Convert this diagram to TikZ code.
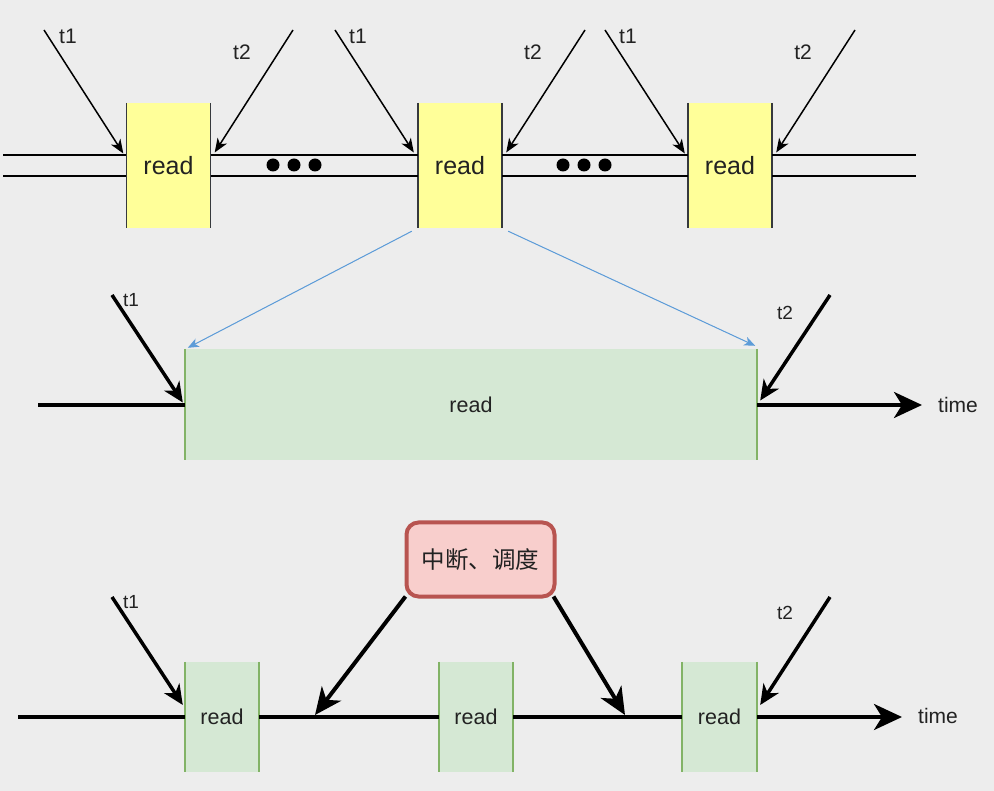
\documentclass[tikz,border=0pt]{standalone}
\usepackage{fontspec}
\setmainfont{Liberation Sans}
\newfontfamily\cjk{Noto Sans CJK SC}
\usetikzlibrary{arrows.meta,calc}
\definecolor{bg}{HTML}{EDEDED}
\definecolor{yfill}{HTML}{FFFF99}
\definecolor{yedge}{HTML}{36393D}
\definecolor{gfill}{HTML}{D5E8D4}
\definecolor{gedge}{HTML}{82B366}
\definecolor{rfill}{HTML}{F8CECC}
\definecolor{redge}{HTML}{B85450}
\definecolor{blu}{HTML}{5D9CD8}
\definecolor{txt}{HTML}{222222}
\tikzset{
  ybox/.style={fill=yfill, minimum width=84pt, minimum height=125pt, inner sep=0pt, text=txt, font=\fontsize{25}{29}\selectfont},
  gbox/.style={fill=gfill, inner sep=0pt, text=txt, font=\fontsize{21.5}{25}\selectfont},
  plainlbl/.style={inner sep=0pt, text=txt, font=\fontsize{21}{25}\selectfont},
  rbox/.style={fill=rfill, draw=redge, line width=4pt, rounded corners=12pt, minimum width=148pt, minimum height=74pt, inner sep=0pt, text=txt, font=\cjk\fontsize{23.5}{27}\selectfont},
  yline/.style={draw=yedge, line width=1.5pt},
  gline/.style={draw=gedge, line width=1.5pt},
  dline/.style={draw=black, line width=1.5pt},
  dot/.style={circle, fill=black, minimum size=13pt, inner sep=0pt},
  tlbl/.style={inner sep=0pt, text=txt, font=\fontsize{21}{25}\selectfont},
  mlbl/.style={inner sep=0pt, text=txt, font=\fontsize{19}{23}\selectfont},
  tarr/.style={draw=black, line width=1.5pt, -{Stealth[length=14pt,width=11pt,inset=4pt]}},
  barr/.style={draw=blu, line width=1pt, -{Stealth[length=11pt,width=9pt,inset=3pt]}, fill=blu},
  karr/.style={draw=black, line width=3.5pt, -{Stealth[length=20pt,width=18pt,inset=6pt]}},
  harr/.style={draw=black, line width=4pt, -{Stealth[length=27pt,width=24pt,inset=8pt]}},
  timearr/.style={draw=black, line width=3.5pt, -{Stealth[length=28pt,width=26pt,inset=8pt]}},
  kline/.style={draw=black, line width=3.5pt},
}
\begin{document}
\begin{tikzpicture}[x=1pt,y=-1pt]
\useasboundingbox (0,0) rectangle (994,791);
\fill[bg] (0,0) rectangle (994,791);

% ---------- top row ----------
\node[ybox] (b1) at (168.5,165.5) {read};
\node[ybox] (b2) at (460,165.5) {read};
\node[ybox] (b3) at (730,165.5) {read};
\foreach \b in {b1,b2,b3}{
  \draw[yline] (\b.north west) -- (\b.south west);
  \draw[yline] (\b.north east) -- (\b.south east);
}
\coordinate (la) at (3,155);
\coordinate (lb) at (3,176);
\coordinate (ra) at (916,155);
\coordinate (rb) at (916,176);
\foreach \l/\r in {la/ra,lb/rb}{
  \draw[dline] (\l) -- (\l -| b1.west);
  \draw[dline] (b1.east |- \l) -- (b2.west |- \l);
  \draw[dline] (b2.east |- \l) -- (b3.west |- \l);
  \draw[dline] (b3.east |- \l) -- (\r);
}
\node[dot] (d1) at (273,165) {};
\node[dot] (d2) at (294,165) {};
\node[dot] (d3) at (315,165) {};
\node[dot] (d4) at (563,165) {};
\node[dot] (d5) at (584,165) {};
\node[dot] (d6) at (605,165) {};

\coordinate (s1) at (44,30);
\coordinate (s2) at (293,30);
\coordinate (s3) at (335,30);
\coordinate (s4) at (585,30);
\coordinate (s5) at (605,30);
\coordinate (s6) at (855,30);
\draw[tarr] (s1) -- ($(b1.west)+(-3,-12)$);
\draw[tarr] (s2) -- ($(b1.east)+(4,-13)$);
\draw[tarr] (s3) -- ($(b2.west)+(-4,-13)$);
\draw[tarr] (s4) -- ($(b2.east)+(4,-13)$);
\draw[tarr] (s5) -- ($(b3.west)+(-3,-12)$);
\draw[tarr] (s6) -- ($(b3.east)+(4,-13)$);
\node[tlbl] (t1a) at (68,36) {t1};
\node[tlbl] (t2a) at (242,52) {t2};
\node[tlbl] (t1b) at (358,36) {t1};
\node[tlbl] (t2b) at (533,52) {t2};
\node[tlbl] (t1c) at (628,36) {t1};
\node[tlbl] (t2c) at (803,52) {t2};

% ---------- middle row ----------
\node[gbox, minimum width=572pt, minimum height=111pt] (g) at (471,404.5) {read};
\draw[gline] (g.north west) -- (g.south west);
\draw[gline] (g.north east) -- (g.south east);
\draw[barr] ($(b2.south west)+(-6,3)$) -- ($(g.north west)+(3,-1)$);
\draw[barr] ($(b2.south east)+(6,3)$) -- ($(g.north east)+(-2,-3)$);
\coordinate (m0) at (38,405);
\coordinate (m1) at (922,405);
\coordinate (mt1) at (112,295);
\coordinate (mt2) at (830,295);
\draw[kline] (m0) -- (m0 -| g.west);
\draw[timearr] (m1 -| g.east) -- (m1);
\draw[karr] (mt1) -- ($(g.west)+(-2,-2)$);
\draw[karr] (mt2) -- ($(g.east)+(3,-4)$);
\node[mlbl] (t1m) at (131,300) {t1};
\node[mlbl] (t2m) at (785,313) {t2};
\node[plainlbl] (time1) at (958,405) {time};

% ---------- bottom row ----------
\node[gbox, minimum width=74pt, minimum height=110pt] (ga) at (222,717) {read};
\node[gbox, minimum width=74pt, minimum height=110pt] (gb) at (476,717) {read};
\node[gbox, minimum width=75pt, minimum height=110pt] (gc) at (719.5,717) {read};
\foreach \b in {ga,gb,gc}{
  \draw[gline] (\b.north west) -- (\b.south west);
  \draw[gline] (\b.north east) -- (\b.south east);
}
\coordinate (n0) at (18,717);
\coordinate (n1) at (902,717);
\draw[kline] (n0) -- (ga.west);
\draw[kline] (ga.east) -- (gb.west);
\draw[kline] (gb.east) -- (gc.west);
\draw[timearr] (gc.east) -- (n1);
\node[plainlbl] (time2) at (938,716) {time};
\coordinate (nt1) at (112,597);
\coordinate (nt2) at (830,597);
\draw[karr] (nt1) -- ($(ga.west)+(-2,-12)$);
\draw[karr] (nt2) -- ($(gc.east)+(3,-12)$);
\node[mlbl] (t1n) at (131,602) {t1};
\node[mlbl] (t2n) at (785,613) {t2};

\node[rbox] (r) at (480.5,559.5) {中断、调度};
\coordinate (ha) at (315,715);
\coordinate (hb) at (625,715);
\draw[harr] ($(r.south west)+(1,-2)$) -- (ha);
\draw[harr] ($(r.south east)+(-3,-2)$) -- (hb);
\end{tikzpicture}
\end{document}
